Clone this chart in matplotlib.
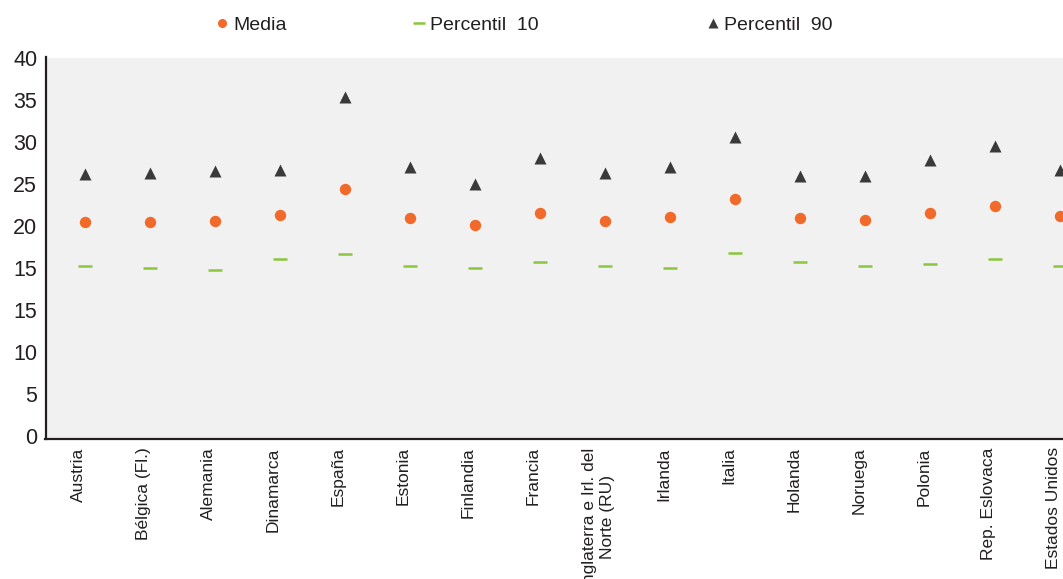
import numpy as np
import matplotlib
matplotlib.use("Agg")
import matplotlib.pyplot as plt
import matplotlib.transforms as mtransforms
from matplotlib.lines import Line2D

plt.rcParams['font.family'] = ['Liberation Sans', 'DejaVu Sans']

countries = ['Austria', 'Bélgica (Fl.)', 'Alemania', 'Dinamarca', 'España', 'Estonia',
             'Finlandia', 'Francia', 'Inglaterra e Irl. del\nNorte (RU)', 'Irlanda', 'Italia',
             'Holanda', 'Noruega', 'Polonia', 'Rep. Eslovaca', 'Estados Unidos']
media = [20.4, 20.4, 20.55, 21.3, 24.4, 20.85, 20.05, 21.55, 20.55, 21.05, 23.15,
         20.85, 20.7, 21.5, 22.35, 21.15]
p10 = [15.2, 14.9, 14.75, 16.0, 16.65, 15.2, 14.9, 15.7, 15.2, 14.9, 16.75,
       15.65, 15.2, 15.4, 16.0, 15.2]
p90 = [26.15, 26.2, 26.45, 26.65, 35.25, 27.0, 24.95, 28.05, 26.3, 26.95, 30.5,
       25.85, 25.85, 27.75, 29.5, 26.65]
ytick_pos = [-5, 0, 5, 10, 15, 20, 25, 30, 35, 40]
ytick_labels = ['0', '5', '10', '15', '15', '20', '25', '30', '35', '40']

c_media = '#f26a2a'
c_p10 = '#8cc63e'
c_p90 = '#3a3a3a'
txt = '#231f20'

W, H = 1063, 579
fig = plt.figure(figsize=(W / 100, H / 100), dpi=100)
top_px, bot_px, left_px = 57.5, 439.0, 45.5
ax = fig.add_axes([left_px / W, 1 - bot_px / H, 1 - left_px / W, (bot_px - top_px) / H])
ax.set_facecolor('#f0f1f0')

x = np.arange(len(countries))
ax.plot(x, p10, linestyle='none', marker='_', ms=9.4, mew=1.8, color=c_p10)
ax.plot(x, media, linestyle='none', marker='o', ms=8.2, color=c_media, mec='none')
ax.plot(x, p90, linestyle='none', marker='^', ms=8.2, color=c_p90, mec='none')

ax.set_xlim(-0.6, 15.05)
ax.set_ylim(-5.4, 40)
ax.set_yticks(ytick_pos)
ax.set_yticklabels(ytick_labels, fontsize=15.5, color=txt)
ax.set_xticks(x)
ax.set_xticklabels(countries, rotation=90, fontsize=12.5, color=txt,
                   va='top', ha='center', multialignment='center')
ax.tick_params(axis='both', length=0)
ax.tick_params(axis='y', pad=6)
ax.tick_params(axis='x', pad=6)
offset = mtransforms.ScaledTranslation(-6 / 100, 0, fig.dpi_scale_trans)
for lab in ax.get_xticklabels():
    lab.set_transform(lab.get_transform() + offset)

for s in ['top', 'right']:
    ax.spines[s].set_visible(False)
for s in ['left', 'bottom']:
    ax.spines[s].set_linewidth(1.6)
    ax.spines[s].set_color(txt)

# legend, three separate entries spaced like the original
entries = [
    (Line2D([], [], linestyle='none', marker='o', ms=6.5, color=c_media, mec='none'), 'Media', 216),
    (Line2D([], [], linestyle='none', marker='_', ms=9.0, mew=1.8, color=c_p10), 'Percentil  10', 413),
    (Line2D([], [], linestyle='none', marker='^', ms=6.5, color=c_p90, mec='none'), 'Percentil  90', 707),
]
for h, lbl, px in entries:
    fig.legend([h], [lbl], loc='center left', bbox_to_anchor=(px / W, 1 - 25 / H),
               frameon=False, fontsize=14, handlelength=0.6, handletextpad=0.3,
               borderpad=0, borderaxespad=0, labelcolor=txt)

fig.savefig('out.png', dpi=100)
